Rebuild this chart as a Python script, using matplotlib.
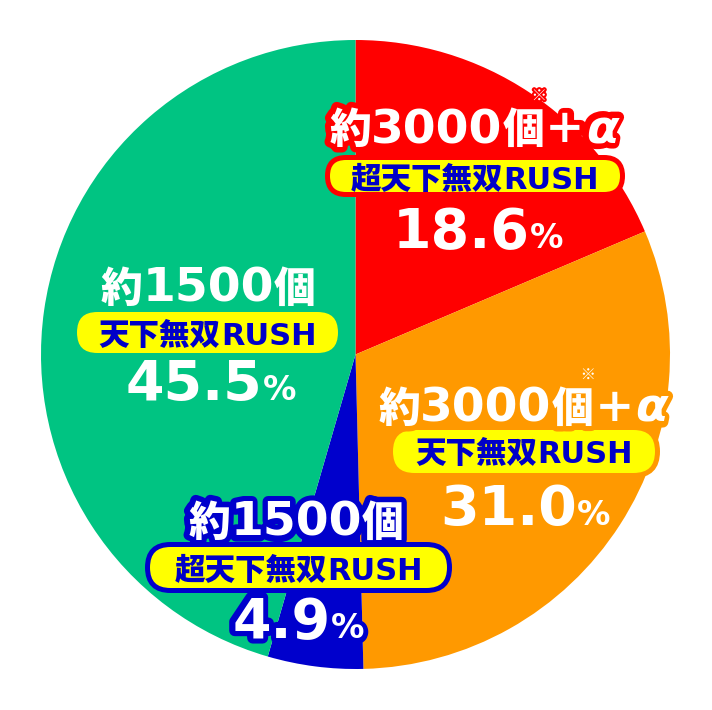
import matplotlib
matplotlib.use("Agg")
import matplotlib.pyplot as plt
import matplotlib.patheffects as pe
from matplotlib.patches import FancyBboxPatch

# ---- data ----
shares = [18.6, 31.0, 4.9, 45.5]
amounts = ['3000', '3000', '1500', '1500']
plus_alpha = [True, True, False, False]
rush_prefix = ['超天下無双', '天下無双', '超天下無双', '天下無双']
rush_suffix = ['RUSH', 'RUSH', 'RUSH', 'RUSH']
colors = ['#FF0000', '#FF9900', '#0000CC', '#00C482']

W, H = 712, 710
fig = plt.figure(figsize=(W / 100, H / 100), dpi=100)
ax = fig.add_axes([0, 0, 1, 1])
ax.pie(shares, colors=colors, startangle=90, counterclock=False,
       radius=314.5, center=(355.5, H - 354.5), wedgeprops=dict(linewidth=0))
ax.set_xlim(0, W)
ax.set_ylim(0, H)
ax.set_aspect('equal')
ax.axis('off')

CJK = 'Noto Sans CJK JP'
LAT = 'DejaVu Sans'
renderer = fig.canvas.get_renderer()

# layout (pixel coords, y from top)
lay = [
    dict(cx=474, b1=143, box=(325, 155, 625, 197), b2=189, cp=478, b3=248, mark=True),
    dict(cx=523, b1=422, box=(388, 425, 660, 478), b2=463, cp=525, b3=525, mark=True),
    dict(cx=296, b1=536, box=(145, 542, 452, 593), b2=580, cp=298, b3=638, mark=False),
    dict(cx=208, b1=302, box=(72, 307, 343, 358), b2=345, cp=211, b3=400, mark=False),
]


def draw_line(pieces, cx, base, stroke, sw, z):
    """pieces: list of (text, kwargs, color). Lay out horizontally centred."""
    objs = []
    for s, kw, col in pieces:
        f = ax.text(0, H - base, s, ha='left', va='baseline', color=col,
                    zorder=z + 1, **kw)
        st = None
        if stroke is not None:
            st = ax.text(0, H - base, s, ha='left', va='baseline', color=stroke,
                         zorder=z, **kw)
            st.set_path_effects([pe.withStroke(linewidth=sw, foreground=stroke)])
        objs.append((f, st))
    ws = [o[0].get_window_extent(renderer).width for o in objs]
    x = cx - sum(ws) / 2
    xs = []
    for (f, st), w in zip(objs, ws):
        f.set_x(x)
        if st is not None:
            st.set_x(x)
        xs.append((x, w))
        x += w
    return xs


for i in range(len(shares)):
    c = colors[i]
    L = lay[i]
    cjk1 = dict(family=[CJK, LAT], fontsize=30, fontweight=900)
    lat1 = dict(family=[LAT], fontsize=34, fontweight='bold')
    pieces = [('約', cjk1, 'white'), (amounts[i], lat1, 'white'), ('個', cjk1, 'white')]
    if plus_alpha[i]:
        pieces.append(('＋', cjk1, 'white'))
        pieces.append(('α', dict(family=[LAT], fontsize=34, fontweight='bold',
                                 fontstyle='oblique'), 'white'))
    xs = draw_line(pieces, L['cx'], L['b1'], c, 8, 6)
    if L['mark']:
        gx, gw = xs[2]
        ax.text(gx + gw * 0.88, H - (L['b1'] - 47), '※', ha='center', va='center',
                color='white', fontsize=11, family=[CJK], zorder=9,
                path_effects=[pe.withStroke(linewidth=3, foreground=c)])

    # yellow pill box
    x0, y0, x1, y1 = L['box']
    b = 5
    bx0, by0, bx1, by1 = x0 + b / 2, y0 + b / 2, x1 - b / 2, y1 - b / 2
    hh = by1 - by0
    box = FancyBboxPatch((bx0, H - by1), bx1 - bx0, hh,
                         boxstyle=f"round,pad=0,rounding_size={hh / 2}",
                         facecolor='#FFFF00', edgecolor=c, linewidth=b * 0.72,
                         zorder=4)
    ax.add_patch(box)
    cjk2 = dict(family=[CJK, LAT], fontsize=22, fontweight=900)
    lat2 = dict(family=[LAT], fontsize=22, fontweight='bold')
    draw_line([(rush_prefix[i], cjk2, '#0000C8'), (rush_suffix[i], lat2, '#0000C8')],
              (x0 + x1) / 2, L['b2'], None, 0, 5)

    # percentage
    pieces = [(f"{shares[i]:.1f}", dict(family=[LAT], fontsize=40, fontweight='bold'), 'white'),
              ('%', dict(family=[LAT], fontsize=24, fontweight='bold'), 'white')]
    draw_line(pieces, L['cp'], L['b3'], c, 8, 6)

fig.savefig('out.png', dpi=100)
